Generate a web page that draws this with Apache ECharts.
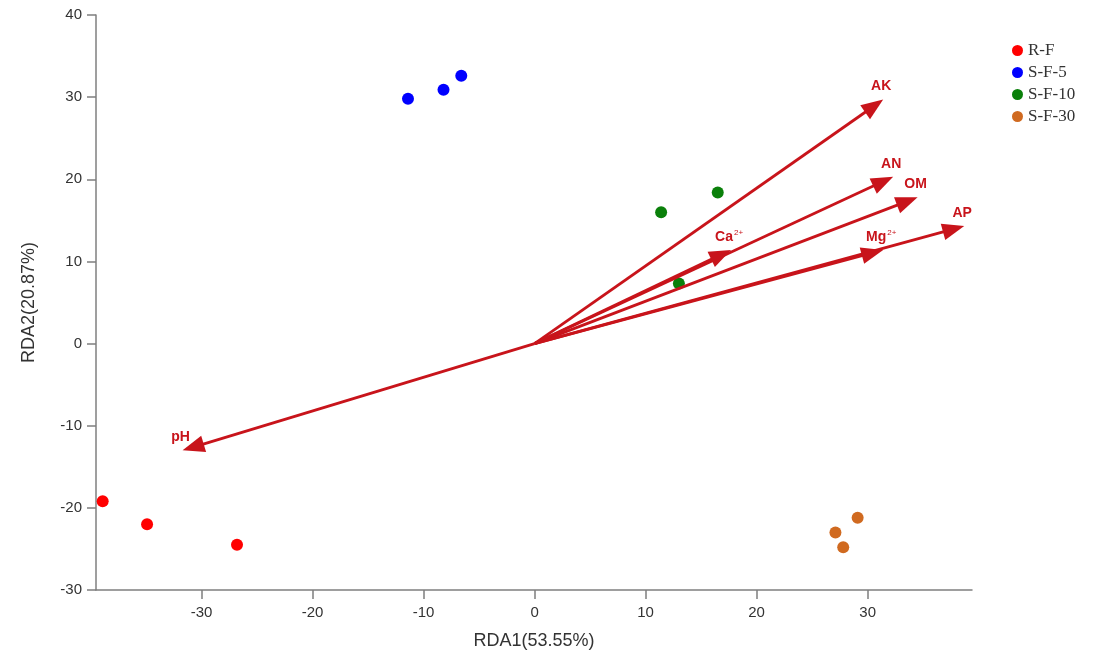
<!DOCTYPE html>
<html>
<head>
<meta charset="utf-8">
<script src="https://cdn.jsdelivr.net/npm/echarts@6/dist/echarts.min.js"></script>
<style>html,body{margin:0;padding:0;background:#fff}#c{width:1101px;height:655px}</style>
</head>
<body>
<div id="c"></div>
<script>
// Sample scores (RDA1, RDA2)
const groups = ['R-F', 'S-F-5', 'S-F-10', 'S-F-30'];
const groupColors = ['#ff0000', '#0000ff', '#0a800a', '#d06a20'];
const rfPoints = [[-38.9, -19.2], [-34.9, -22.0], [-26.8, -24.5]];
const sf5Points = [[-11.4, 29.8], [-8.2, 30.9], [-6.6, 32.6]];
const sf10Points = [[11.4, 16.0], [16.5, 18.4], [13.0, 7.3]];
const sf30Points = [[27.1, -23.0], [27.8, -24.8], [29.1, -21.2]];
// Environmental factor arrows
const envNames = ['AK', 'AN', 'OM', 'AP', 'Mg', 'Ca', 'pH'];
const envSup = ['', '', '', '', '2+', '2+', ''];
const envX = [31.4, 32.3, 34.5, 38.7, 31.4, 17.7, -31.7];
const envY = [29.7, 20.3, 17.8, 14.3, 11.4, 11.4, -13.0];
const xTicks = [-30, -20, -10, 0, 10, 20, 30];

const arrowColor = '#c8141b';
const chart = echarts.init(document.getElementById('c'));
const pointSets = [rfPoints, sf5Points, sf10Points, sf30Points];

const scatterSeries = groups.map((g, i) => ({
  name: g,
  type: 'scatter',
  symbol: 'circle',
  symbolSize: 12,
  itemStyle: { color: groupColors[i], opacity: 1 },
  data: pointSets[i],
  z: 3
}));

const arrowData = envNames.map((n, i) => [envX[i], envY[i], n, envSup[i]]);

const arrowSeries = {
  type: 'custom',
  name: 'env',
  data: arrowData,
  z: 5,
  silent: true,
  renderItem: function (params, api) {
    const x = api.value(0), y = api.value(1);
    const name = arrowData[params.dataIndex][2];
    const sup = arrowData[params.dataIndex][3];
    const s = api.coord([0, 0]);
    const e = api.coord([x, y]);
    const dx = e[0] - s[0], dy = e[1] - s[1];
    const len = Math.sqrt(dx * dx + dy * dy);
    const ux = dx / len, uy = dy / len;
    const L = 22, W = 8.5;
    const bx = e[0] - ux * L, by = e[1] - uy * L;
    const nx = -uy, ny = ux;
    const text = sup ? name + '{sup|' + sup + '}' : name;
    return {
      type: 'group',
      children: [
        { type: 'line', shape: { x1: s[0], y1: s[1], x2: bx + ux * 3, y2: by + uy * 3 },
          style: { stroke: arrowColor, lineWidth: 2.8 } },
        { type: 'polygon', shape: { points: [[e[0], e[1]], [bx + nx * W, by + ny * W], [bx - nx * W, by - ny * W]] },
          style: { fill: arrowColor } },
        { type: 'text', x: e[0] - 2, y: e[1] - 13,
          style: { text: text, fill: arrowColor, font: 'bold 14px "Liberation Sans", Arial, sans-serif',
            align: 'center', verticalAlign: 'middle',
            rich: { sup: { fontSize: 8, fill: arrowColor, color: arrowColor, fontWeight: 'normal', verticalAlign: 'top', padding: [0, 0, 8, 1] } } } }
      ]
    };
  }
};

const axisFont = { color: '#333', fontSize: 15, fontFamily: '"Liberation Sans", Arial, sans-serif' };
const axisLineStyle = { color: '#7f7f7f', width: 1.5 };

chart.setOption({
  animation: false,
  backgroundColor: '#fff',
  grid: { left: 96, top: 15, right: 129, bottom: 65, containLabel: false },
  legend: {
    orient: 'vertical', left: 1007, top: 37, itemGap: 5,
    icon: 'circle', itemWidth: 11, itemHeight: 11,
    data: groups,
    textStyle: { fontFamily: '"Liberation Serif", "Times New Roman", serif', fontSize: 17, color: '#333' }
  },
  xAxis: {
    type: 'value', min: -39.5, max: 39.4,
    name: 'RDA1(53.55%)', nameLocation: 'middle', nameGap: 42,
    nameTextStyle: { fontSize: 18, color: '#333', fontFamily: '"Liberation Sans", Arial, sans-serif' },
    axisLine: { show: true, onZero: false, lineStyle: axisLineStyle },
    axisTick: { show: true, length: 9, lineStyle: axisLineStyle, customValues: xTicks },
    axisLabel: Object.assign({ margin: 15, customValues: xTicks }, axisFont),
    splitLine: { show: false }
  },
  yAxis: {
    type: 'value', min: -30, max: 40, interval: 10,
    name: 'RDA2(20.87%)', nameLocation: 'middle', nameGap: 58,
    nameTextStyle: { fontSize: 18, color: '#333', fontFamily: '"Liberation Sans", Arial, sans-serif' },
    axisLine: { show: true, onZero: false, lineStyle: axisLineStyle },
    axisTick: { show: true, length: 9, lineStyle: axisLineStyle },
    axisLabel: Object.assign({ margin: 14 }, axisFont),
    splitLine: { show: false }
  },
  series: scatterSeries.concat([arrowSeries])
});
</script>
</body>
</html>
